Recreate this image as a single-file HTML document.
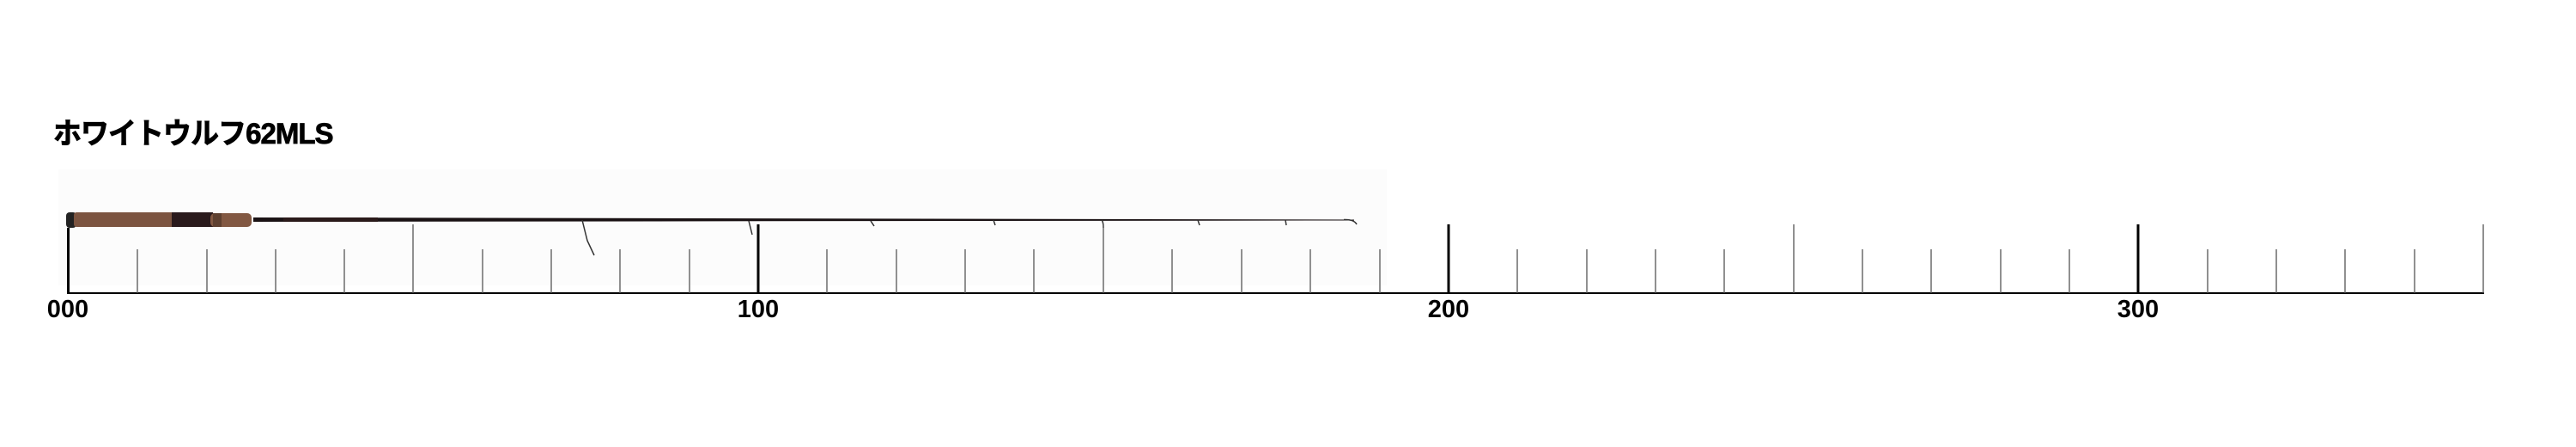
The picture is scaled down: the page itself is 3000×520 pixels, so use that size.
<!DOCTYPE html>
<html><head><meta charset="utf-8"><style>
html,body{margin:0;padding:0;background:#fff;}
body{width:3000px;height:520px;overflow:hidden;position:relative;}
.t{position:absolute;left:62px;top:128px;font:bold 34px "Liberation Sans","Noto Sans CJK JP",sans-serif;color:#000;letter-spacing:-1px;transform:scaleX(0.97);transform-origin:left;-webkit-text-stroke:0.8px #000;}
</style></head><body>
<div class="t">ホワイトウルフ62MLS</div>
<svg width="3000" height="520" style="position:absolute;left:0;top:0" xmlns="http://www.w3.org/2000/svg">
<rect x="68" y="197" width="1547" height="135" fill="#fcfcfc"/>
<polygon points="295,253 1577,255.5 1577,256.5 295,258" fill="#1a1214"/>
<rect x="330" y="253" width="110" height="5" fill="#2a1a1a"/>
<rect x="77" y="247" width="12" height="18" rx="4" fill="#222"/>
<rect x="86" y="247" width="122" height="17" rx="3" fill="#7c5440"/>
<rect x="200" y="247" width="48" height="17" fill="#2a1a1c"/>
<rect x="245" y="248" width="48" height="16" rx="5" fill="#825842"/>
<rect x="248" y="248" width="10" height="16" fill="#5e4030"/>
<g stroke="#333" stroke-width="1.5" fill="none">
<path d="M678,256 L684,280 L692,297"/>
<path d="M872,257 L876,273"/>
<path d="M1014,257 L1018,263"/>
<path d="M1157,256 L1159,262"/>
<path d="M1283,256 Q1285,258 1285,265"/>
<path d="M1395,256 L1397,262"/>
<path d="M1497,256 L1498,262"/>
<path d="M1565,255.5 Q1577,255 1580,261"/>
</g>
<line x1="78" y1="341" x2="2893" y2="341" stroke="#000" stroke-width="2"/>
<g stroke="#000">
<line x1="79.5" y1="265" x2="79.5" y2="341" stroke-width="3"/>
<line x1="883" y1="261" x2="883" y2="341" stroke-width="3"/>
<line x1="1687" y1="261" x2="1687" y2="341" stroke-width="3"/>
<line x1="2490" y1="261" x2="2490" y2="341" stroke-width="3"/>
</g>
<g stroke="#555" stroke-width="1.3">
<line x1="160" y1="290" x2="160" y2="341"/><line x1="241" y1="290" x2="241" y2="341"/><line x1="321" y1="290" x2="321" y2="341"/><line x1="401" y1="290" x2="401" y2="341"/><line x1="481" y1="261" x2="481" y2="341"/><line x1="562" y1="290" x2="562" y2="341"/><line x1="642" y1="290" x2="642" y2="341"/><line x1="722" y1="290" x2="722" y2="341"/><line x1="803" y1="290" x2="803" y2="341"/>
<line x1="963" y1="290" x2="963" y2="341"/><line x1="1044" y1="290" x2="1044" y2="341"/><line x1="1124" y1="290" x2="1124" y2="341"/><line x1="1204" y1="290" x2="1204" y2="341"/><line x1="1285" y1="261" x2="1285" y2="341"/><line x1="1365" y1="290" x2="1365" y2="341"/><line x1="1446" y1="290" x2="1446" y2="341"/><line x1="1526" y1="290" x2="1526" y2="341"/><line x1="1607" y1="290" x2="1607" y2="341"/>
<line x1="1767" y1="290" x2="1767" y2="341"/><line x1="1848" y1="290" x2="1848" y2="341"/><line x1="1928" y1="290" x2="1928" y2="341"/><line x1="2008" y1="290" x2="2008" y2="341"/><line x1="2089" y1="261" x2="2089" y2="341"/><line x1="2169" y1="290" x2="2169" y2="341"/><line x1="2249" y1="290" x2="2249" y2="341"/><line x1="2330" y1="290" x2="2330" y2="341"/><line x1="2410" y1="290" x2="2410" y2="341"/>
<line x1="2571" y1="290" x2="2571" y2="341"/><line x1="2651" y1="290" x2="2651" y2="341"/><line x1="2731" y1="290" x2="2731" y2="341"/><line x1="2812" y1="290" x2="2812" y2="341"/><line x1="2892" y1="261" x2="2892" y2="341"/>
</g>
<g font-family="Liberation Sans, sans-serif" font-weight="bold" font-size="29" text-anchor="middle" fill="#000">
<text x="79" y="369">000</text>
<text x="883" y="369">100</text>
<text x="1687" y="369">200</text>
<text x="2490" y="369">300</text>
</g>
</svg>
</body></html>
